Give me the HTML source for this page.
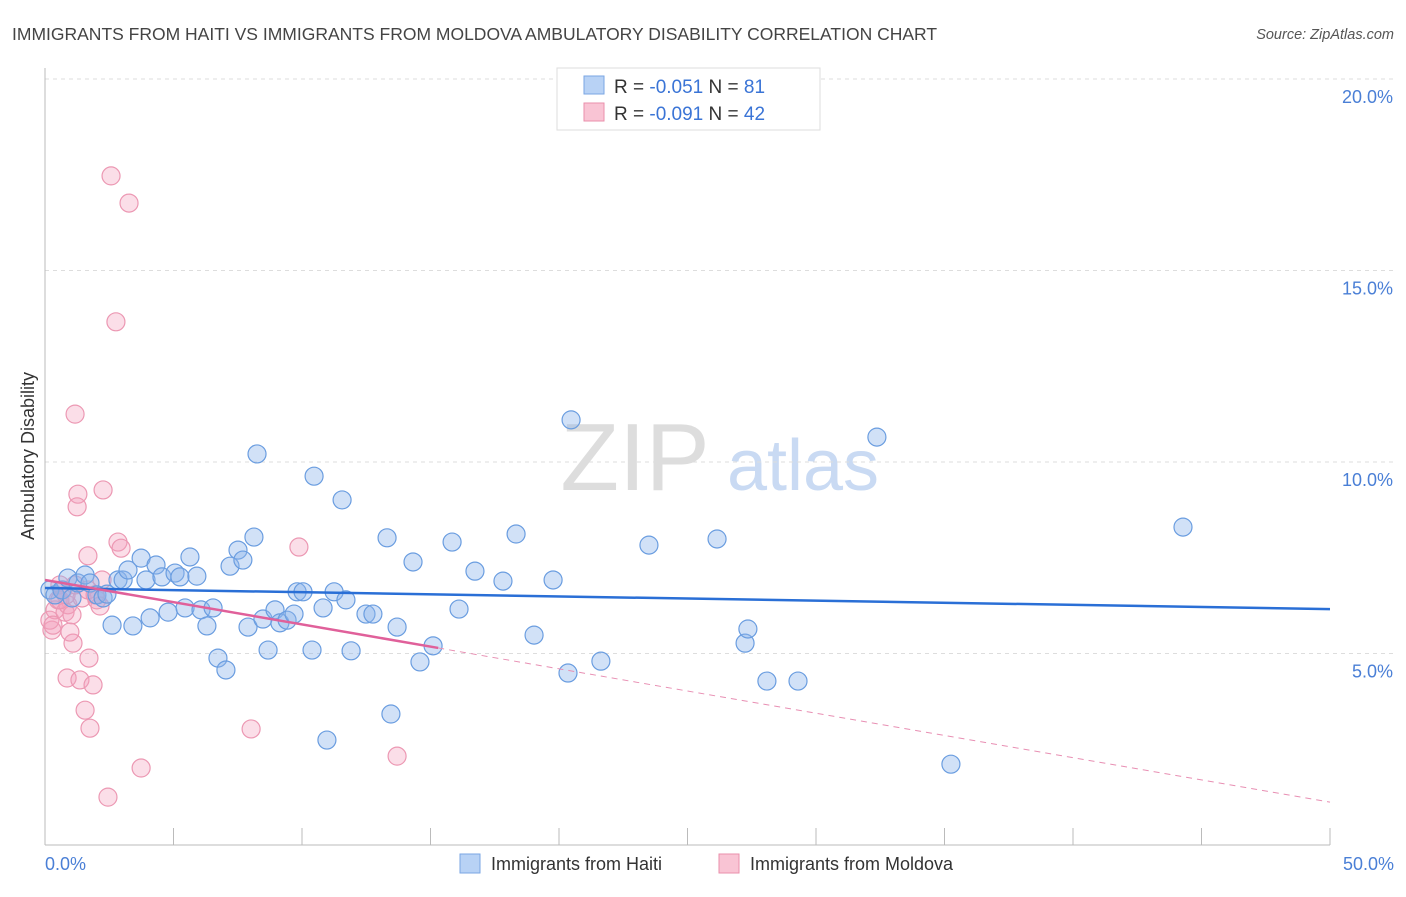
<!DOCTYPE html>
<html><head><meta charset="utf-8"><style>
body{margin:0;background:#fff;font-family:"Liberation Sans",sans-serif}
svg text{font-family:"Liberation Sans",sans-serif}
</style></head><body>
<svg width="1406" height="892" viewBox="0 0 1406 892" id="chart">
<text x="12" y="40" font-size="17.5" fill="#444">IMMIGRANTS FROM HAITI VS IMMIGRANTS FROM MOLDOVA AMBULATORY DISABILITY CORRELATION CHART</text>
<text x="1394" y="39" font-size="14.5" fill="#555" font-style="italic" text-anchor="end">Source: ZipAtlas.com</text>
<g>
<text x="635" y="490" font-size="96" fill="#ddd" font-family="Liberation Serif" text-anchor="middle">ZIP</text>
<text x="803" y="490" font-size="72" fill="#c9daf3" text-anchor="middle">atlas</text>
</g>
<g id="grid"></g><g id="axes"></g><g id="marks"></g>
<text transform="translate(34,456) rotate(-90)" font-size="18" fill="#333" text-anchor="middle">Ambulatory Disability</text>
<text x="45" y="870" font-size="18" fill="#4a7fd6">0.0%</text>
<text x="1394" y="870" font-size="18" fill="#4a7fd6" text-anchor="end">50.0%</text>
<g>
<rect x="557" y="68" width="263" height="62" fill="#fff" stroke="#ddd"/>
<rect x="584" y="76" width="20" height="18" fill="#b8d2f5" stroke="#7aa6e3"/>
<rect x="584" y="103" width="20" height="18" fill="#f9c4d4" stroke="#ea8fab"/>
<text x="614" y="93" font-size="19" fill="#333">R = <tspan fill="#3a74d6">-0.051</tspan>   N = <tspan fill="#3a74d6"> 81</tspan></text>
<text x="614" y="120" font-size="19" fill="#333">R = <tspan fill="#3a74d6">-0.091</tspan>   N = <tspan fill="#3a74d6">42</tspan></text>
</g>
<g>
<rect x="460" y="854" width="20" height="19" fill="#b8d2f5" stroke="#7aa6e3"/>
<text x="491" y="870" font-size="18" fill="#333">Immigrants from Haiti</text>
<rect x="719" y="854" width="20" height="19" fill="#f9c4d4" stroke="#ea8fab"/>
<text x="750" y="870" font-size="18" fill="#333">Immigrants from Moldova</text>
</g>
</svg>
<script>
const yTicks=[5,10,15,20];
const yTickLabels=["5.0%","10.0%","15.0%","20.0%"];
const xTicks=[0,5,10,15,20,25,30,35,40,45,50];
const haitiX=[0.19,0.39,0.66,0.89,1.05,1.28,1.56,1.75,2.02,2.26,2.41,2.61,2.84,3.04,3.23,3.42,3.74,3.93,4.09,4.32,4.55,4.79,5.06,5.25,5.45,5.64,5.91,6.07,6.30,6.54,6.73,7.04,7.20,7.51,7.70,7.90,8.13,8.25,8.48,8.68,8.95,9.14,9.42,9.69,9.81,10.04,10.39,10.47,10.82,10.97,11.25,11.56,11.71,11.91,12.49,12.76,13.31,13.46,13.70,14.32,14.59,15.10,15.84,16.11,16.73,17.82,18.33,19.03,19.77,20.35,20.47,21.63,23.50,26.15,27.24,27.35,28.09,29.30,32.37,35.25,44.28];
const haitiY=[6.66,6.53,6.66,6.97,6.45,6.84,7.05,6.84,6.53,6.45,6.55,5.74,6.92,6.92,7.18,5.72,7.49,6.92,5.93,7.31,7.00,6.08,7.10,7.00,6.19,7.52,7.02,6.14,5.72,6.19,4.88,4.57,7.28,7.70,7.44,5.69,8.04,10.21,5.90,5.09,6.14,5.80,5.87,6.03,6.61,6.61,5.09,9.63,6.19,2.74,6.61,9.01,6.40,5.07,6.03,6.03,8.02,3.42,5.69,7.39,4.78,5.20,7.91,6.16,7.15,6.89,8.12,5.48,6.92,4.49,11.10,4.80,7.83,7.99,5.27,5.64,4.28,4.28,10.65,2.11,8.30];
const moldovaX=[0.27,0.19,0.39,0.51,0.58,0.70,0.78,0.89,1.05,1.09,0.97,0.86,1.17,1.28,1.25,1.36,1.44,1.56,1.67,1.71,1.75,1.87,2.02,2.14,2.22,2.26,2.57,2.76,2.84,2.96,3.27,3.74,2.45,8.02,9.88,13.70,0.31,0.58,0.82,1.17,1.67,1.95];
const moldovaY=[5.61,5.87,6.14,6.40,6.79,6.66,6.08,6.27,6.01,5.27,5.56,4.36,11.25,9.16,8.83,4.31,6.45,3.52,7.55,4.88,3.05,4.18,6.40,6.24,6.92,9.27,17.47,13.66,7.91,7.75,16.76,2.01,1.25,3.03,7.78,2.32,5.74,6.40,6.53,6.79,6.66,6.53];
const haitiTrend=[6.71,-0.011];
const moldovaTrend=[6.92,-0.116];
const moldovaSolidMax=15.3;
const NS="http://www.w3.org/2000/svg";
const X=v=>45+v*25.7, Y=v=>845-v*38.3;
function mk(t,a,p){const e=document.createElementNS(NS,t);for(const k in a)e.setAttribute(k,a[k]);p.appendChild(e);return e;}
const grid=document.getElementById('grid'),axes=document.getElementById('axes'),marks=document.getElementById('marks');
yTicks.forEach((t,i)=>{
 const l=mk('line',{x1:45,x2:1394,y1:Y(t),y2:Y(t),stroke:'#ddd','stroke-dasharray':'4,4'},grid);
 
 
 const tx=mk('text',{x:1393,y:Y(t)+24,'font-size':18,fill:'#4a7fd6','text-anchor':'end'},grid);
 tx.textContent=yTickLabels[i];
 
 
});
const ax=mk('line',{x1:45,x2:45,y1:68,y2:845,stroke:'#bbb'},axes);


const bx=mk('line',{x1:45,x2:1330,y1:845,y2:845,stroke:'#bbb'},axes);


xTicks.forEach(t=>{const l=mk('line',{x1:X(t),x2:X(t),y1:828,y2:845,stroke:'#bbb'},axes);
 
 });
function dots(xs,ys,fill,stroke,name){xs.forEach((x,i)=>{
 const c=mk('circle',{cx:X(x),cy:Y(ys[i]),r:9,fill:fill,stroke:stroke,'stroke-width':1.2},marks);
 
 });}
dots(moldovaX,moldovaY,'rgba(244,160,188,0.35)','#ec98b3','moldova-point');
dots(haitiX,haitiY,'rgba(140,180,235,0.4)','#6a9de0','haiti-point');
const f=(tr,x)=>tr[0]+tr[1]*x;
let l=mk('line',{x1:X(0),y1:Y(f(haitiTrend,0)),x2:X(50),y2:Y(f(haitiTrend,50)),stroke:'#2a6fd6','stroke-width':2.5},marks);


l=mk('line',{x1:X(0),y1:Y(f(moldovaTrend,0)),x2:X(moldovaSolidMax),y2:Y(f(moldovaTrend,moldovaSolidMax)),stroke:'#e0609a','stroke-width':2.5},marks);


l=mk('line',{x1:X(moldovaSolidMax),y1:Y(f(moldovaTrend,moldovaSolidMax)),x2:X(50),y2:Y(f(moldovaTrend,50)),stroke:'#e88fb3','stroke-width':1,'stroke-dasharray':'6,5'},marks);


</script>
</body></html>
